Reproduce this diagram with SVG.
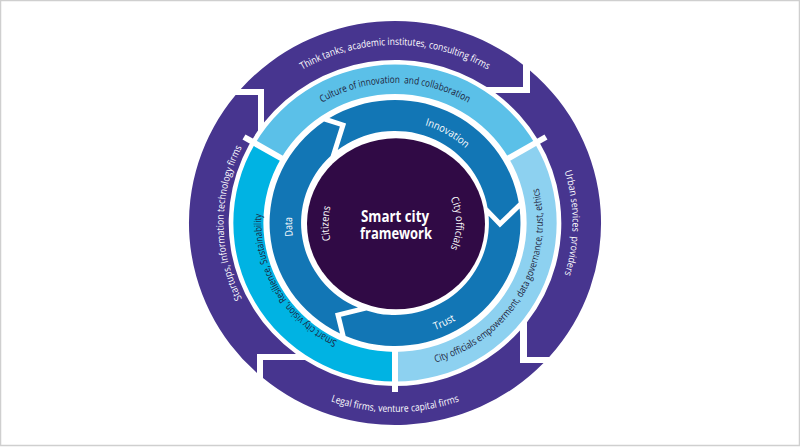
<svg xmlns="http://www.w3.org/2000/svg" xmlns:xlink="http://www.w3.org/1999/xlink" width="800" height="447" viewBox="0 0 800 447">
<style>
.purple{fill:#47358f}
.dark{fill:#1276b5}
.center{fill:#300a45}
.lt{fill:#5bc0e8}
.lr{fill:#8dd1f0}
.ll{fill:#00b3e3}
.div{stroke:#fff;stroke-width:6}
.t{font-family:"Open Sans","Noto Sans","DejaVu Sans",sans-serif;font-size:10px;fill:#fff}
.ti{font-family:"Open Sans","Noto Sans","DejaVu Sans",sans-serif;font-size:10.5px;fill:#fff}
.td{font-family:"Open Sans","Noto Sans","DejaVu Sans",sans-serif;font-size:10px;fill:#1d1d3b}
.title{font-family:"Open Sans","Noto Sans","DejaVu Sans",sans-serif;font-size:15.5px;font-weight:700;fill:#fff}
</style>
<defs>
<path id="pThink" d="M237.7,134 A181.6 178 0 0 1 552.3,134"/>
<path id="pUrban" d="M531,111.1 A177.5 174 0 0 1 531,334.9"/>
<path id="pLegal" d="M228,317.5 A192.8 189 0 0 0 562,317.5"/>
<path id="pStart" d="M284.8,351.7 A171.4 168 0 0 1 284.8,94.3"/>
<path id="pCult" d="M260.8,175.1 A142.8 140 0 0 1 529.2,175.1"/>
<path id="pOff" d="M407.9,367.4 A147.9 145 0 0 0 529,161.7"/>
<path id="pVis" d="M383.4,353.5 A133.6 131 0 0 1 273.9,167.6"/>
<path id="pInno" d="M376.9,122.5 A104 102 0 0 1 492.7,188.1"/>
<path id="pTrust" d="M366.9,333.6 A116.3 114 0 0 0 501.2,269.4"/>
<path id="pData" d="M346.6,312.2 A103 101 0 0 1 340.4,137.4"/>
<path id="pCit" d="M362.25,282 A67.5 67.5 0 0 1 362.25,165"/>
<path id="pCO" d="M426,171.5 A60 60 0 0 1 426,275.5"/>
</defs>
<rect x="0.5" y="0.5" width="799" height="445" fill="#fff" stroke="#cfcfcf" stroke-width="1.5"/>

<g id="outer-think-tanks">
<path class="purple" d="M240.8,89 A206 202 0 0 1 523,64.7 L523,87 L486.7,87 A166.3 163 0 0 0 264,122.6 L264,89 Z"/>
<text class="t"><textPath href="#pThink" startOffset="50%" text-anchor="middle" textLength="194" lengthAdjust="spacingAndGlyphs">Think tanks, academic institutes, consulting firms</textPath></text>
</g>
<g id="outer-urban">
<path class="purple" d="M530,70.4 A206 202 0 0 1 549.2,357 L527,357 L527,322.2 A166.3 163 0 0 0 495.3,93 L530,93 Z"/>
<text class="t" xml:space="preserve"><textPath href="#pUrban" startOffset="50%" text-anchor="middle" textLength="105" lengthAdjust="spacingAndGlyphs">Urban services  providers</textPath></text>
</g>
<g id="outer-legal">
<path class="purple" d="M543.5,363 A206 202 0 0 1 263,378.1 L263,360 L304.9,360 A166.3 163 0 0 0 520,330.5 L520,363 Z"/>
<text class="t"><textPath href="#pLegal" startOffset="50%" text-anchor="middle" textLength="131" lengthAdjust="spacingAndGlyphs">Legal firms, venture capital firms</textPath></text>
</g>
<g id="outer-startups">
<path class="purple" d="M257,373 A206 202 0 0 1 235.6,95 L258,95 L258,130.6 A166.3 163 0 0 0 296,354 L257,354 Z"/>
<text class="t"><textPath href="#pStart" startOffset="50%" text-anchor="middle" textLength="157" lengthAdjust="spacingAndGlyphs">Startups, Information technology firms</textPath></text>
</g>

<g id="ring-culture">
<path class="lt" d="M255,143.75 A161.7 158.5 0 0 1 535,143.75 L509,158.5 A131.6 129 0 0 0 281,158.5 Z"/>
<text class="td" xml:space="preserve"><textPath href="#pCult" startOffset="50%" text-anchor="middle" textLength="153" lengthAdjust="spacingAndGlyphs">Culture of innovation  and collaboration</textPath></text>
</g>
<g id="ring-officials">
<path class="lr" d="M535,143.75 A161.7 158.5 0 0 1 395,381.5 L395,352 A131.6 129 0 0 0 509,158.5 Z"/>
<text class="td"><textPath href="#pOff" startOffset="50%" text-anchor="middle" textLength="224" lengthAdjust="spacingAndGlyphs">City officials empowerment, data governance, trust, ethics</textPath></text>
</g>
<g id="ring-vision">
<path class="ll" d="M395,381.5 A161.7 158.5 0 0 1 255,143.75 L281,158.5 A131.6 129 0 0 0 395,352 Z"/>
<text class="td"><textPath href="#pVis" startOffset="50%" text-anchor="middle" textLength="157" lengthAdjust="spacingAndGlyphs">Smart city vision, Resilience, Sustainability</textPath></text>
</g>
<g id="ring-dividers">
<line class="div" x1="395" y1="345" x2="395" y2="392"/>
<line class="div" x1="502" y1="162" x2="546" y2="137"/>
<line class="div" x1="288" y1="162" x2="244" y2="137"/>
</g>

<g id="arrow-innovation">
<path class="dark" d="M329.4,118.1 A125.5 123 0 0 1 518.7,202.5 L500.06,220.5 L487.5,207.5 A93.8 92 0 0 0 337.7,150.1 L346.1,123.4 Z"/>
<text class="ti"><textPath href="#pInno" startOffset="50%" text-anchor="middle" textLength="47" lengthAdjust="spacingAndGlyphs">Innovation</textPath></text>
</g>
<g id="arrow-trust">
<path class="dark" d="M519.6,208.5 A125.5 123 0 0 1 345.7,336.1 L341,316.8 L366.4,310.6 A93.8 92 0 0 0 488.6,215.8 L499.9,227.5 Z"/>
<text class="ti"><textPath href="#pTrust" startOffset="50%" text-anchor="middle" textLength="23" lengthAdjust="spacingAndGlyphs">Trust</textPath></text>
</g>
<g id="arrow-data">
<path class="dark" d="M340,333.5 A125.5 123 0 0 1 324,121.6 L339.9,126.6 L330.6,156 A93.8 92 0 0 0 358,307.6 L335,313.2 Z"/>
<text class="ti"><textPath href="#pData" startOffset="50%" text-anchor="middle" textLength="19" lengthAdjust="spacingAndGlyphs">Data</textPath></text>
</g>

<g id="center">
<ellipse class="center" cx="396" cy="223.8" rx="89" ry="85.5"/>
<text class="title" x="395" y="221.5" text-anchor="middle" textLength="68" lengthAdjust="spacingAndGlyphs">Smart city</text>
<text class="title" x="396" y="238.5" text-anchor="middle" textLength="72" lengthAdjust="spacingAndGlyphs">framework</text>
<text class="ti"><textPath href="#pCit" startOffset="50%" text-anchor="middle" textLength="34" lengthAdjust="spacingAndGlyphs">Citizens</textPath></text>
<text class="ti"><textPath href="#pCO" startOffset="50%" text-anchor="middle" textLength="52" lengthAdjust="spacingAndGlyphs">City officials</textPath></text>
</g>
</svg>
